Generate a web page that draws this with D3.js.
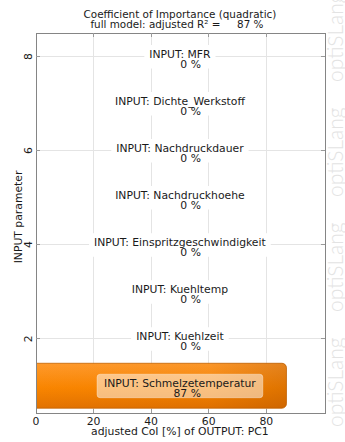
<!DOCTYPE html>
<html>
<head>
<meta charset="utf-8">
<script src="https://cdn.jsdelivr.net/npm/d3@7/dist/d3.min.js"></script>
<style>
  html, body { margin: 0; padding: 0; background: #ffffff; }
  svg { display: block; }
  text { font-family: "DejaVu Sans", Verdana, sans-serif; fill: #1a1a1a; }
</style>
</head>
<body>
<div id="chart"></div>
<script>
// Coefficient of Importance per input parameter (quadratic model)
const categories = [
  "INPUT: Schmelzetemperatur",
  "INPUT: Kuehlzeit",
  "INPUT: Kuehltemp",
  "INPUT: Einspritzgeschwindigkeit",
  "INPUT: Nachdruckhoehe",
  "INPUT: Nachdruckdauer",
  "INPUT: Dichte_Werkstoff",
  "INPUT: MFR"
];
const positions = [1, 2, 3, 4, 5, 6, 7, 8];
const coiValues = [87, 0, 0, 0, 0, 0, 0, 0];
const xTickValues = [0, 20, 40, 60, 80];
const yTickValues = [2, 4, 6, 8];
const adjustedR2 = 87;
const titleText = "Coefficient of Importance (quadratic)";
const xAxisTitle = "adjusted CoI [%] of OUTPUT: PC1";
const yAxisTitle = "INPUT parameter";
const watermarkText = "optiSLang";

const W = 345, H = 442;
const margin = { left: 36, right: 20, top: 33, bottom: 29 };

const svg = d3.select("#chart").append("svg")
  .attr("width", W).attr("height", H);

const x = d3.scaleLinear().domain([0, 100.4]).range([margin.left, W - margin.right]);
const y = d3.scaleLinear().domain([0.42, 8.5]).range([H - margin.bottom, margin.top]);

const defs = svg.append("defs");
const grad = defs.append("linearGradient").attr("id", "barGrad")
  .attr("x1", 0).attr("y1", 0).attr("x2", 0).attr("y2", 1);
grad.append("stop").attr("offset", "0%").attr("stop-color", "#ff9a2c");
grad.append("stop").attr("offset", "55%").attr("stop-color", "#f98500");
grad.append("stop").attr("offset", "100%").attr("stop-color", "#e27200");
const shade = defs.append("linearGradient").attr("id", "barShade")
  .attr("x1", 0).attr("y1", 0).attr("x2", 1).attr("y2", 0);
shade.append("stop").attr("offset", "0%").attr("stop-color", "#a04a00").attr("stop-opacity", 0);
shade.append("stop").attr("offset", "70%").attr("stop-color", "#a04a00").attr("stop-opacity", 0.05);
shade.append("stop").attr("offset", "100%").attr("stop-color", "#a04a00").attr("stop-opacity", 0.3);

defs.append("clipPath").attr("id", "plotClip").append("rect")
  .attr("x", x.range()[0]).attr("y", y.range()[1])
  .attr("width", x.range()[1] - x.range()[0])
  .attr("height", y.range()[0] - y.range()[1]);

// Watermark along the right edge
const wm = svg.append("g");
for (let yy = 427; yy > -60; yy -= 115) {
  wm.append("text")
    .attr("transform", `translate(343,${yy}) rotate(-90)`)
    .style("font-family", "Lato, 'Open Sans', sans-serif")
    .style("font-weight", 300)
    .style("font-size", "21px")
    .style("fill", "#e3e3e3")
    .text(watermarkText);
}

// Grid lines
const grid = svg.append("g");
grid.selectAll(".gx").data(xTickValues.filter(d => d > 0)).join("line")
  .attr("x1", d => x(d)).attr("x2", d => x(d))
  .attr("y1", y.range()[0]).attr("y2", y.range()[1])
  .attr("stroke", "#e4e4e4").attr("stroke-width", 1).attr("shape-rendering", "crispEdges");
grid.selectAll(".gy").data(yTickValues).join("line")
  .attr("y1", d => y(d)).attr("y2", d => y(d))
  .attr("x1", x.range()[0]).attr("x2", x.range()[1])
  .attr("stroke", "#e4e4e4").attr("stroke-width", 1).attr("shape-rendering", "crispEdges");

// Bars
const rows = categories.map((c, i) => ({ name: c, pos: positions[i], value: coiValues[i] }));
const barBand = 0.955;
const bars = svg.append("g").attr("clip-path", "url(#plotClip)");
const barRows = rows.filter(d => d.value > 0);
bars.selectAll("rect.bar").data(barRows).join("rect")
  .attr("class", "bar")
  .attr("x", x(0) - 6)
  .attr("y", d => y(d.pos + barBand / 2))
  .attr("width", d => x(d.value) - x(0) + 6)
  .attr("height", d => y(d.pos - barBand / 2) - y(d.pos + barBand / 2))
  .attr("rx", 4.5)
  .attr("fill", "url(#barGrad)")
  .attr("stroke", "#c26200").attr("stroke-width", 0.8);
bars.selectAll("rect.shade").data(barRows).join("rect")
  .attr("class", "shade")
  .attr("x", x(0) - 6)
  .attr("y", d => y(d.pos + barBand / 2))
  .attr("width", d => x(d.value) - x(0) + 6)
  .attr("height", d => y(d.pos - barBand / 2) - y(d.pos + barBand / 2))
  .attr("rx", 4.5)
  .attr("fill", "url(#barShade)");

// Frame
svg.append("rect")
  .attr("x", x.range()[0] + 0.5).attr("y", y.range()[1] + 0.5)
  .attr("width", x.range()[1] - x.range()[0]).attr("height", y.range()[0] - y.range()[1])
  .attr("fill", "none").attr("stroke", "#858585").attr("stroke-width", 1);

// Inner tick marks
const tk = svg.append("g").attr("stroke", "#9a9a9a").attr("stroke-width", 1).attr("shape-rendering", "crispEdges");
yTickValues.forEach(v => {
  tk.append("line").attr("x1", x.range()[0]).attr("x2", x.range()[0] + 4).attr("y1", y(v)).attr("y2", y(v));
  tk.append("line").attr("x1", x.range()[1] - 4).attr("x2", x.range()[1]).attr("y1", y(v)).attr("y2", y(v));
});
xTickValues.filter(d => d > 0).forEach(v => {
  tk.append("line").attr("x1", x(v)).attr("x2", x(v)).attr("y1", y.range()[0]).attr("y2", y.range()[0] - 4);
  tk.append("line").attr("x1", x(v)).attr("x2", x(v)).attr("y1", y.range()[1]).attr("y2", y.range()[1] + 4);
});

// Value labels (name + percentage), centered at CoI = 50
const labelX = x(50);
const fontSize = 10.8;
const lab = svg.append("g");
rows.forEach(d => {
  const g = lab.append("g");
  const cy = y(d.pos);
  const t1 = g.append("text")
    .attr("x", labelX).attr("y", cy + 1)
    .attr("text-anchor", "middle")
    .style("font-size", fontSize + "px")
    .text(d.name);
  const t2 = g.append("text")
    .attr("x", labelX + 21).attr("y", cy + 11.5)
    .attr("text-anchor", "end")
    .style("font-size", fontSize + "px")
    .text(d3.format(".0f")(d.value) + " %");
  const w = t1.node().getComputedTextLength();
  const pad = d.value > 0 ? 7 : 5;
  g.insert("rect", "text")
    .attr("x", labelX - w / 2 - pad).attr("y", cy - 11.5)
    .attr("width", w + 2 * pad).attr("height", 23.5)
    .attr("rx", 3)
    .attr("fill", "#ffffff")
    .attr("fill-opacity", d.value > 0 ? 0.5 : 1)
    .attr("stroke", d.value > 0 ? "#ffffff" : "none")
    .attr("stroke-opacity", 0.35);
});

// Axis tick labels
svg.append("g").selectAll("text").data(xTickValues).join("text")
  .attr("x", d => x(d)).attr("y", y.range()[0] + 12)
  .attr("text-anchor", "middle")
  .style("font-size", fontSize + "px")
  .text(d => d);
svg.append("g").selectAll("text").data(yTickValues).join("text")
  .attr("transform", d => `translate(${x.range()[0] - 4},${y(d)}) rotate(-90)`)
  .attr("text-anchor", "middle")
  .style("font-size", fontSize + "px")
  .text(d => d);

// Axis titles
svg.append("text")
  .attr("x", x(50)).attr("y", H - 7)
  .attr("text-anchor", "middle")
  .style("font-size", fontSize + "px")
  .text(xAxisTitle);
svg.append("text")
  .attr("transform", `translate(22,${(y.range()[0] + y.range()[1]) / 2 - 6}) rotate(-90)`)
  .attr("text-anchor", "middle")
  .style("font-size", fontSize + "px")
  .text(yAxisTitle);

// Title
svg.append("text")
  .attr("x", x(50)).attr("y", 18)
  .attr("text-anchor", "middle")
  .style("font-size", "10.4px")
  .text(titleText);
svg.append("text")
  .attr("x", x(50) - 3).attr("y", 28)
  .attr("text-anchor", "middle")
  .attr("xml:space", "preserve")
  .style("white-space", "pre")
  .style("font-size", "10.4px")
  .text("full model: adjusted R\u00b2 =     " + adjustedR2 + " %");
</script>
</body>
</html>
